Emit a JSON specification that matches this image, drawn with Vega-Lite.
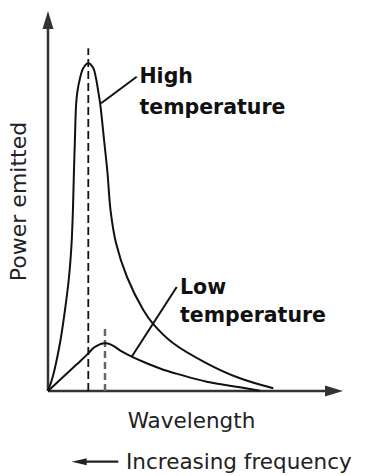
{
  "$schema": "https://vega.github.io/schema/vega-lite/v6.json",
  "width": 295,
  "height": 380,
  "autosize": {"type": "none"},
  "padding": {"left": 48, "top": 11, "right": 24, "bottom": 85},
  "background": "white",
  "config": {"view": {"stroke": null}},
  "datasets": {
    "curves": [
      {"series": "High temperature", "wavelength": 0, "power": 0},
      {"series": "High temperature", "wavelength": 0.159, "power": 0.368},
      {"series": "High temperature", "wavelength": 0.407, "power": 1.263},
      {"series": "High temperature", "wavelength": 0.576, "power": 2.132},
      {"series": "High temperature", "wavelength": 0.712, "power": 3.0},
      {"series": "High temperature", "wavelength": 0.8, "power": 3.895},
      {"series": "High temperature", "wavelength": 0.845, "power": 4.763},
      {"series": "High temperature", "wavelength": 0.878, "power": 5.737},
      {"series": "High temperature", "wavelength": 0.912, "power": 6.605},
      {"series": "High temperature", "wavelength": 0.952, "power": 7.526},
      {"series": "High temperature", "wavelength": 0.996, "power": 7.876},
      {"series": "High temperature", "wavelength": 1.085, "power": 8.229},
      {"series": "High temperature", "wavelength": 1.197, "power": 8.5},
      {"series": "High temperature", "wavelength": 1.366, "power": 8.624},
      {"series": "High temperature", "wavelength": 1.536, "power": 8.5},
      {"series": "High temperature", "wavelength": 1.627, "power": 8.229},
      {"series": "High temperature", "wavelength": 1.705, "power": 7.876},
      {"series": "High temperature", "wavelength": 1.77, "power": 7.553},
      {"series": "High temperature", "wavelength": 1.9, "power": 6.605},
      {"series": "High temperature", "wavelength": 2.017, "power": 5.737},
      {"series": "High temperature", "wavelength": 2.119, "power": 4.763},
      {"series": "High temperature", "wavelength": 2.305, "power": 3.895},
      {"series": "High temperature", "wavelength": 2.678, "power": 3.0},
      {"series": "High temperature", "wavelength": 3.231, "power": 2.132},
      {"series": "High temperature", "wavelength": 3.549, "power": 1.782},
      {"series": "High temperature", "wavelength": 4.247, "power": 1.255},
      {"series": "High temperature", "wavelength": 5.38, "power": 0.729},
      {"series": "High temperature", "wavelength": 6.508, "power": 0.334},
      {"series": "High temperature", "wavelength": 7.637, "power": 0.071},
      {"series": "Low temperature", "wavelength": 0, "power": 0},
      {"series": "Low temperature", "wavelength": 0.519, "power": 0.374},
      {"series": "Low temperature", "wavelength": 0.858, "power": 0.618},
      {"series": "Low temperature", "wavelength": 1.1, "power": 0.79},
      {"series": "Low temperature", "wavelength": 1.366, "power": 0.99},
      {"series": "Low temperature", "wavelength": 1.55, "power": 1.14},
      {"series": "Low temperature", "wavelength": 1.72, "power": 1.215},
      {"series": "Low temperature", "wavelength": 1.85, "power": 1.25},
      {"series": "Low temperature", "wavelength": 1.932, "power": 1.258},
      {"series": "Low temperature", "wavelength": 2.03, "power": 1.25},
      {"series": "Low temperature", "wavelength": 2.214, "power": 1.19},
      {"series": "Low temperature", "wavelength": 2.498, "power": 1.04},
      {"series": "Low temperature", "wavelength": 2.837, "power": 0.903},
      {"series": "Low temperature", "wavelength": 3.346, "power": 0.729},
      {"series": "Low temperature", "wavelength": 3.908, "power": 0.56},
      {"series": "Low temperature", "wavelength": 4.475, "power": 0.43},
      {"series": "Low temperature", "wavelength": 5.38, "power": 0.245},
      {"series": "Low temperature", "wavelength": 6.508, "power": 0.097},
      {"series": "Low temperature", "wavelength": 7.186, "power": 0.008}
    ],
    "peaks": [
      {"series": "High temperature", "wavelength": 1.366, "power": 0, "power2": 9.02},
      {"series": "Low temperature", "wavelength": 1.932, "power": 0, "power2": 1.73}
    ],
    "leaders": [
      {"series": "High temperature", "wavelength": 1.8, "power": 7.571, "wavelength2": 3.007, "power2": 8.271},
      {"series": "Low temperature", "wavelength": 2.837, "power": 0.903, "wavelength2": 4.363, "power2": 2.737}
    ],
    "labels": [
      {"text": "High", "wavelength": 3.1, "power": 8.113},
      {"text": "temperature", "wavelength": 3.1, "power": 7.289},
      {"text": "Low", "wavelength": 4.475, "power": 2.553},
      {"text": "temperature", "wavelength": 4.475, "power": 1.803}
    ],
    "axes": [
      {"axis": "power", "wavelength": 0, "power": 0, "wavelength2": 0, "power2": 9.6},
      {"axis": "wavelength", "wavelength": 0, "power": 0, "wavelength2": 9.45, "power2": 0}
    ]
  },
  "layer": [
    {
      "data": {"name": "axes"},
      "mark": {"type": "rule", "color": "#333", "strokeWidth": 2.5},
      "encoding": {
        "x": {"field": "wavelength", "type": "quantitative", "scale": {"domain": [0, 10], "nice": false, "zero": false}, "axis": null},
        "y": {"field": "power", "type": "quantitative", "scale": {"domain": [0, 10], "nice": false, "zero": false}, "axis": null},
        "x2": {"field": "wavelength2"},
        "y2": {"field": "power2"}
      }
    },
    {
      "data": {"values": [{"wavelength": 0, "power": 10}]},
      "mark": {"type": "point", "shape": "M0,0L0.61,2L-0.61,2Z", "size": 324, "filled": true, "opacity": 1, "color": "#333"},
      "encoding": {
        "x": {"field": "wavelength", "type": "quantitative", "scale": {"domain": [0, 10], "nice": false, "zero": false}, "axis": null},
        "y": {"field": "power", "type": "quantitative", "scale": {"domain": [0, 10], "nice": false, "zero": false}, "axis": null}
      }
    },
    {
      "data": {"values": [{"wavelength": 10, "power": 0}]},
      "mark": {"type": "point", "shape": "M0,0L-2,-0.61L-2,0.61Z", "size": 324, "filled": true, "opacity": 1, "color": "#333"},
      "encoding": {
        "x": {"field": "wavelength", "type": "quantitative", "scale": {"domain": [0, 10], "nice": false, "zero": false}, "axis": null},
        "y": {"field": "power", "type": "quantitative", "scale": {"domain": [0, 10], "nice": false, "zero": false}, "axis": null}
      }
    },
    {
      "data": {"name": "peaks"},
      "transform": [{"filter": "datum.series === 'High temperature'"}],
      "mark": {"type": "rule", "color": "#111", "strokeWidth": 1.8, "strokeDash": [8, 4]},
      "encoding": {
        "x": {"field": "wavelength", "type": "quantitative", "scale": {"domain": [0, 10], "nice": false, "zero": false}, "axis": null},
        "y": {"field": "power", "type": "quantitative", "scale": {"domain": [0, 10], "nice": false, "zero": false}, "axis": null},
        "y2": {"field": "power2"}
      }
    },
    {
      "data": {"name": "peaks"},
      "transform": [{"filter": "datum.series === 'Low temperature'"}],
      "mark": {"type": "rule", "color": "#666", "strokeWidth": 2.5, "strokeDash": [7, 4]},
      "encoding": {
        "x": {"field": "wavelength", "type": "quantitative", "scale": {"domain": [0, 10], "nice": false, "zero": false}, "axis": null},
        "y": {"field": "power", "type": "quantitative", "scale": {"domain": [0, 10], "nice": false, "zero": false}, "axis": null},
        "y2": {"field": "power2"}
      }
    },
    {
      "data": {"name": "curves"},
      "mark": {"type": "line", "color": "#111", "strokeWidth": 2, "interpolate": "catmull-rom"},
      "encoding": {
        "x": {"field": "wavelength", "type": "quantitative", "scale": {"domain": [0, 10], "nice": false, "zero": false}, "axis": null},
        "y": {"field": "power", "type": "quantitative", "scale": {"domain": [0, 10], "nice": false, "zero": false}, "axis": null},
        "detail": {"field": "series", "type": "nominal"}
      }
    },
    {
      "data": {"name": "leaders"},
      "mark": {"type": "rule", "color": "#111", "strokeWidth": 2},
      "encoding": {
        "x": {"field": "wavelength", "type": "quantitative", "scale": {"domain": [0, 10], "nice": false, "zero": false}, "axis": null},
        "y": {"field": "power", "type": "quantitative", "scale": {"domain": [0, 10], "nice": false, "zero": false}, "axis": null},
        "x2": {"field": "wavelength2"},
        "y2": {"field": "power2"}
      }
    },
    {
      "data": {"name": "labels"},
      "mark": {"type": "text", "font": "DejaVu Sans", "fontWeight": "bold", "fontSize": 20.5, "align": "left", "baseline": "alphabetic", "color": "#111"},
      "encoding": {
        "x": {"field": "wavelength", "type": "quantitative", "scale": {"domain": [0, 10], "nice": false, "zero": false}, "axis": null},
        "y": {"field": "power", "type": "quantitative", "scale": {"domain": [0, 10], "nice": false, "zero": false}, "axis": null},
        "text": {"field": "text", "type": "nominal"}
      }
    },
    {
      "data": {"values": [{"text": "Wavelength", "wavelength": 4.864, "power": -0.982}]},
      "mark": {"type": "text", "font": "DejaVu Sans", "fontSize": 21.5, "align": "center", "baseline": "alphabetic", "color": "#222"},
      "encoding": {
        "x": {"field": "wavelength", "type": "quantitative", "scale": {"domain": [0, 10], "nice": false, "zero": false}, "axis": null},
        "y": {"field": "power", "type": "quantitative", "scale": {"domain": [0, 10], "nice": false, "zero": false}, "axis": null},
        "text": {"field": "text", "type": "nominal"}
      }
    },
    {
      "data": {"values": [{"text": "Increasing frequency", "wavelength": 2.644, "power": -2.053}]},
      "mark": {"type": "text", "font": "DejaVu Sans", "fontSize": 21.5, "align": "left", "baseline": "alphabetic", "color": "#222"},
      "encoding": {
        "x": {"field": "wavelength", "type": "quantitative", "scale": {"domain": [0, 10], "nice": false, "zero": false}, "axis": null},
        "y": {"field": "power", "type": "quantitative", "scale": {"domain": [0, 10], "nice": false, "zero": false}, "axis": null},
        "text": {"field": "text", "type": "nominal"}
      }
    },
    {
      "data": {"values": [{"text": "Power emitted", "wavelength": -0.746, "power": 4.987}]},
      "mark": {"type": "text", "font": "DejaVu Sans", "fontSize": 22, "align": "center", "baseline": "alphabetic", "angle": -90, "color": "#222"},
      "encoding": {
        "x": {"field": "wavelength", "type": "quantitative", "scale": {"domain": [0, 10], "nice": false, "zero": false}, "axis": null},
        "y": {"field": "power", "type": "quantitative", "scale": {"domain": [0, 10], "nice": false, "zero": false}, "axis": null},
        "text": {"field": "text", "type": "nominal"}
      }
    },
    {
      "data": {"values": [{"wavelength": 1.25, "power": -1.861, "wavelength2": 2.383}]},
      "mark": {"type": "rule", "color": "#222", "strokeWidth": 2.2},
      "encoding": {
        "x": {"field": "wavelength", "type": "quantitative", "scale": {"domain": [0, 10], "nice": false, "zero": false}, "axis": null},
        "y": {"field": "power", "type": "quantitative", "scale": {"domain": [0, 10], "nice": false, "zero": false}, "axis": null},
        "x2": {"field": "wavelength2"}
      }
    },
    {
      "data": {"values": [{"wavelength": 0.803, "power": -1.861}]},
      "mark": {"type": "point", "shape": "M0,0L2,-0.47L2,0.47Z", "size": 225, "filled": true, "opacity": 1, "color": "#222"},
      "encoding": {
        "x": {"field": "wavelength", "type": "quantitative", "scale": {"domain": [0, 10], "nice": false, "zero": false}, "axis": null},
        "y": {"field": "power", "type": "quantitative", "scale": {"domain": [0, 10], "nice": false, "zero": false}, "axis": null}
      }
    }
  ]
}
